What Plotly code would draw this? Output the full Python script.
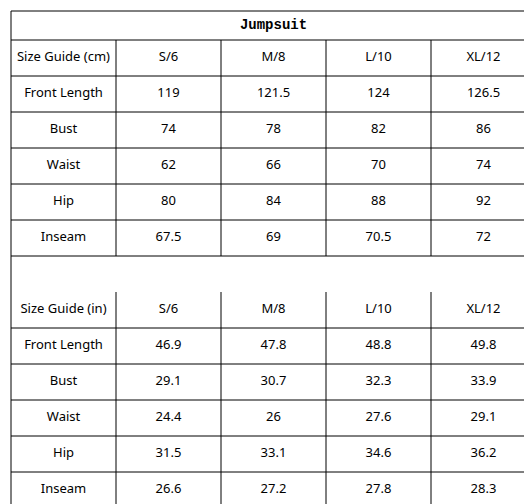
import plotly.graph_objects as go

title = "Jumpsuit"
sizes = ["S/6", "M/8", "L/10", "XL/12"]
measures = ["Front Length", "Bust", "Waist", "Hip", "Inseam"]
cm_values = [
    ["119", "121.5", "124", "126.5"],
    ["74", "78", "82", "86"],
    ["62", "66", "70", "74"],
    ["80", "84", "88", "92"],
    ["67.5", "69", "70.5", "72"],
]
in_values = [
    ["46.9", "47.8", "48.8", "49.8"],
    ["29.1", "30.7", "32.3", "33.9"],
    ["24.4", "26", "27.6", "29.1"],
    ["31.5", "33.1", "34.6", "36.2"],
    ["26.6", "27.2", "27.8", "28.3"],
]

W, H = 532, 504
col_edges = [3, 108, 213, 318, 423, 528]
title_top, title_bot = 3, 32
row_h = 36
cm_top = title_bot
blank_top = cm_top + 6 * row_h
in_top = blank_top + row_h
bottom = in_top + 6 * row_h

xs, ys, texts = [], [], []


def add_block(label, values, top):
    rows = [[label] + sizes] + [[m] + v for m, v in zip(measures, values)]
    for r, row in enumerate(rows):
        for c, t in enumerate(row):
            xs.append((col_edges[c] + col_edges[c + 1]) / 2)
            ys.append(top + r * row_h + row_h / 2)
            texts.append(t)


add_block("Size Guide (cm)", cm_values, cm_top)
add_block("Size Guide (in)", in_values, in_top)

fig = go.Figure()
fig.add_trace(go.Scatter(x=xs, y=ys, text=texts, mode="text",
                         textfont=dict(family="Noto Sans", size=13, color="black"),
                         hoverinfo="skip"))
fig.add_trace(go.Scatter(x=[(col_edges[0] + col_edges[-1]) / 2], y=[(title_top + title_bot) / 2],
                         text=["<b>" + title + "</b>"], mode="text",
                         textfont=dict(family="Liberation Mono", size=14, color="black"),
                         hoverinfo="skip"))

line = dict(color="black", width=1)
shapes = [dict(type="rect", x0=col_edges[0], x1=col_edges[-1], y0=title_top, y1=bottom, line=line)]
# horizontal lines
hl = [title_bot] + [cm_top + i * row_h for i in range(1, 7)] + [in_top + i * row_h for i in range(1, 6)]
for y in hl:
    shapes.append(dict(type="line", x0=col_edges[0], x1=col_edges[-1], y0=y, y1=y, line=line))
# vertical lines in both blocks
for x in col_edges[1:-1]:
    for top in (cm_top, in_top):
        shapes.append(dict(type="line", x0=x, x1=x, y0=top, y1=top + 6 * row_h, line=line))

fig.update_layout(width=W, height=H, margin=dict(l=0, r=0, t=0, b=0),
                  paper_bgcolor="white", plot_bgcolor="white", showlegend=False,
                  shapes=shapes,
                  xaxis=dict(range=[0, W], visible=False, fixedrange=True),
                  yaxis=dict(range=[H, 0], visible=False, fixedrange=True))
fig.write_html("out.html")
